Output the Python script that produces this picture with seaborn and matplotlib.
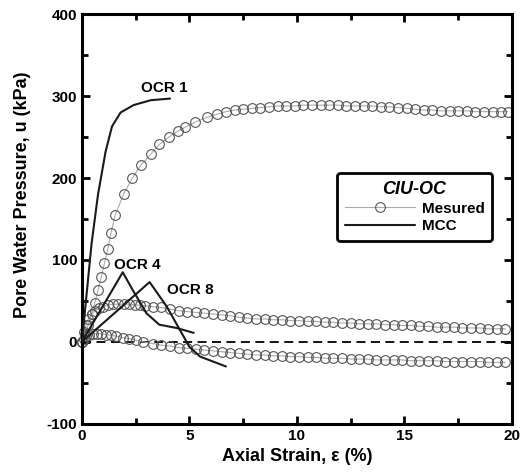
import pandas as pd
import seaborn as sns
import matplotlib.pyplot as plt
import matplotlib.ticker as ticker
from matplotlib.lines import Line2D

# tail strain positions shared by the OCR 4 / OCR 8 measured curves
tail_x = [4.9, 5.3, 5.7, 6.1, 6.5, 6.9, 7.3, 7.7, 8.1, 8.5,
          8.9, 9.3, 9.7, 10.1, 10.5, 10.9, 11.3, 11.7, 12.1, 12.5,
          12.9, 13.3, 13.7, 14.1, 14.5, 14.9, 15.3, 15.7, 16.1, 16.5,
          16.9, 17.3, 17.7, 18.1, 18.5, 18.9, 19.3, 19.7]

# measured, OCR 1
ocr1_x = [0, 0.15, 0.3, 0.45, 0.6, 0.75, 0.9, 1.05, 1.2, 1.35,
          1.55, 1.95, 2.35, 2.75, 3.2, 3.6, 4.05, 4.45, 4.8, 5.25,
          5.8, 6.3, 6.7, 7.1, 7.5, 7.9, 8.3, 8.7, 9.1, 9.5,
          9.9, 10.3, 10.7, 11.1, 11.5, 11.9, 12.3, 12.7, 13.1, 13.5,
          13.9, 14.3, 14.7, 15.1, 15.5, 15.9, 16.3, 16.7, 17.1, 17.5,
          17.9, 18.3, 18.7, 19.1, 19.5, 19.8]
ocr1_u = [0, 10, 21, 34, 48, 63, 79, 96, 113, 133,
          155, 181, 200, 216, 229, 241, 250, 257, 262, 268,
          274, 278, 281, 283, 284, 285, 286, 287, 288, 288,
          288, 289, 289, 289, 289, 289, 288, 288, 288, 288,
          287, 287, 286, 285, 284, 283, 283, 282, 282, 282,
          282, 281, 281, 281, 281, 281]

# measured, OCR 4
ocr4_x = [0, 0.1, 0.2, 0.3, 0.45, 0.6, 0.8, 1.0, 1.2, 1.45,
          1.7, 1.95, 2.2, 2.45, 2.7, 2.95, 3.3, 3.7, 4.1, 4.5] + tail_x
ocr4_u = [0, 12, 21, 28, 34, 38, 41, 43, 45, 46,
          46, 46, 46, 45, 45, 44, 43, 42, 40, 38,
          37, 36, 35, 34, 33, 32, 30, 29, 28, 28,
          27, 27, 26, 26, 25, 25, 24, 24, 23, 23,
          22, 22, 22, 21, 21, 20, 20, 19, 19, 18,
          18, 18, 17, 17, 17, 16, 16, 16]

# measured, OCR 8
ocr8_x = [0, 0.1, 0.2, 0.35, 0.5, 0.7, 0.9, 1.1, 1.35, 1.6,
          1.9, 2.2, 2.5, 2.85, 3.3, 3.7, 4.1, 4.5] + tail_x
ocr8_u = [0, 4, 7, 9, 10, 10, 10, 9, 8, 7,
          5, 4, 2, 0, -2, -4, -5, -7,
          -8, -9, -10, -11, -12, -13, -14, -15, -16, -16,
          -17, -17, -18, -18, -19, -19, -20, -20, -20, -21,
          -21, -21, -22, -22, -22, -22, -23, -23, -23, -23,
          -24, -24, -24, -24, -24, -25, -25, -25]

# MCC predictions
mcc1_x = [0, 0.45, 0.75, 1.1, 1.4, 1.8, 2.4, 3.2, 4.1]
mcc1_u = [0, 120, 180, 232, 263, 280, 289, 295, 297]
mcc4_x = [0, 1.9, 2.37, 3.0, 3.6, 4.4, 5.2]
mcc4_u = [0, 85, 63, 35, 21, 17, 11]
mcc8_x = [0, 3.15, 3.95, 4.55, 5.0, 5.5, 6.7]
mcc8_u = [0, 73, 43, 15, -6, -18, -30]

sns.set_style('ticks')
plt.rcParams['font.family'] = ['Liberation Sans', 'DejaVu Sans']
plt.rcParams['font.weight'] = 'bold'
plt.rcParams['axes.unicode_minus'] = False
for key in ['text.color', 'axes.labelcolor', 'xtick.color', 'ytick.color']:
    plt.rcParams[key] = 'black'

fig, ax = plt.subplots(figsize=(5.25, 4.73), dpi=100)
fig.subplots_adjust(left=0.156, right=0.975, bottom=0.104, top=0.970)

ax.axhline(0, color='black', lw=1.3, ls=(0, (5, 3)), zorder=1)

for xs, us in [(ocr1_x, ocr1_u), (ocr4_x, ocr4_u), (ocr8_x, ocr8_u)]:
    df = pd.DataFrame({'strain': xs, 'u': us})
    sns.lineplot(data=df, x='strain', y='u', sort=False, ax=ax,
                 color='#aaaaaa', lw=0.8, marker='o', markersize=7,
                 markerfacecolor='none', markeredgecolor='#555555',
                 markeredgewidth=0.8, zorder=2, clip_on=False)

for xs, us in [(mcc1_x, mcc1_u), (mcc4_x, mcc4_u), (mcc8_x, mcc8_u)]:
    df = pd.DataFrame({'strain': xs, 'u': us})
    sns.lineplot(data=df, x='strain', y='u', sort=False, ax=ax,
                 color='#1a1a1a', lw=1.5, zorder=3)

ax.text(3.85, 310, 'OCR 1', ha='center', va='center', fontsize=11, fontweight='bold')
ax.text(2.6, 94, 'OCR 4', ha='center', va='center', fontsize=11, fontweight='bold')
ax.text(5.05, 63, 'OCR 8', ha='center', va='center', fontsize=11, fontweight='bold')

ax.set_xlim(0, 20)
ax.set_ylim(-100, 400)
ax.xaxis.set_major_locator(ticker.MultipleLocator(5))
ax.xaxis.set_minor_locator(ticker.MultipleLocator(2.5))
ax.yaxis.set_major_locator(ticker.MultipleLocator(100))
ax.yaxis.set_minor_locator(ticker.MultipleLocator(50))
ax.tick_params(which='both', direction='in', top=True, right=True, width=2, labelsize=11)
ax.tick_params(which='major', length=6)
ax.tick_params(which='minor', length=4)
for lab in ax.get_xticklabels() + ax.get_yticklabels():
    lab.set_fontweight('bold')
for sp in ax.spines.values():
    sp.set_linewidth(2.2)
    sp.set_color('black')

ax.set_xlabel('Axial Strain, ε (%)', fontsize=13, fontweight='bold', labelpad=4)
ax.set_ylabel('Pore Water Pressure, u (kPa)', fontsize=13, fontweight='bold')
ax.yaxis.set_label_coords(-0.118, 0.56)

handles = [
    Line2D([], [], color='#aaaaaa', lw=0.8, marker='o', markersize=7,
           markerfacecolor='none', markeredgecolor='#555555', markeredgewidth=0.8),
    Line2D([], [], color='#1a1a1a', lw=1.5),
]
leg = ax.legend(handles, ['Mesured', 'MCC'], loc='upper left',
                bbox_to_anchor=(0.593, 0.612), borderaxespad=0, title='CIU-OC',
                title_fontproperties={'weight': 'bold', 'style': 'italic', 'size': 13},
                prop={'weight': 'bold', 'size': 11}, handlelength=4.6,
                fancybox=True, framealpha=1, edgecolor='black',
                borderpad=0.5, labelspacing=0.25, handletextpad=0.45)
leg.get_frame().set_linewidth(2)

fig.savefig('out.png', dpi=100)
